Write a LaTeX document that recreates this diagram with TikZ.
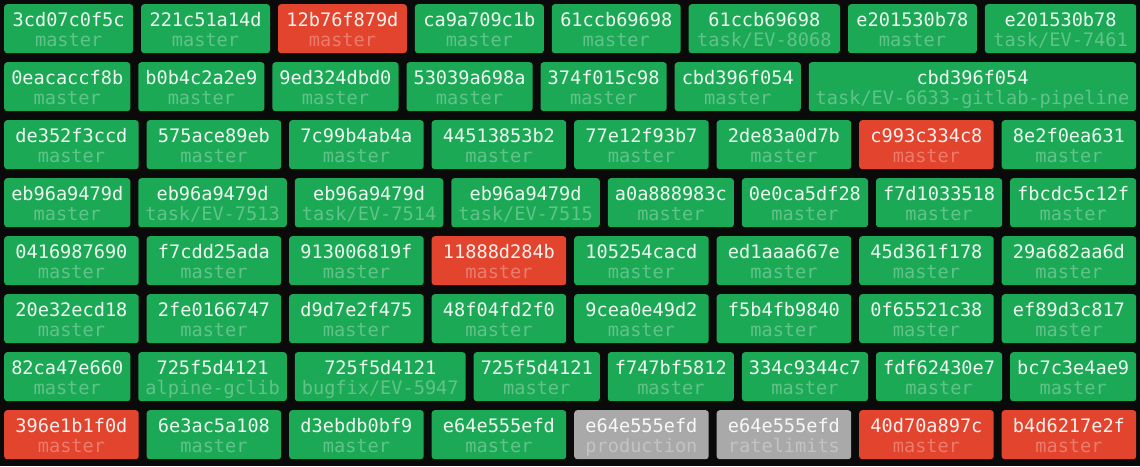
\documentclass[tikz,border=0pt]{standalone}
\usepackage{fontspec}
\setmonofont{DejaVu Sans Mono}
\usepackage{xcolor}
\definecolor{bgblack}{RGB}{10,10,10}
\definecolor{cgreen}{RGB}{28,169,86}
\definecolor{cred}{RGB}{226,68,45}
\definecolor{cgrey}{RGB}{169,169,169}

% one commit tile: name, left x, top y, width, fill, hash, branch
\newcommand{\commit}[7]{%
  \node[commitbox, fill=#5, minimum width=#4pt] (#1) at (#2,#3) {};
  \node[hashlabel=#5] (#1h) at ([yshift=-22pt]#1.north) {#6};
  \node[branchlabel=#5] (#1b) at ([yshift=-42pt]#1.north) {#7};
}

\begin{document}
\begin{tikzpicture}[x=1pt,y=-1pt,
  commitbox/.style={rectangle, rounded corners=3pt, minimum height=49pt,
    inner sep=0pt, anchor=north west},
  hashlabel/.style={anchor=base, inner sep=0pt, text=white!92!#1,
    font=\ttfamily\fontsize{18.6}{20}\selectfont},
  branchlabel/.style={anchor=base, inner sep=0pt, text=white!30!#1,
    font=\ttfamily\fontsize{18.6}{20}\selectfont}]
\fill[bgblack] (0,0) rectangle (1140,466);
\useasboundingbox (0,0) rectangle (1140,466);

% row 1
\commit{r1a}{4}{4}{128.9}{cgreen}{3cd07c0f5c}{master}
\commit{r1b}{140.9}{4}{128.9}{cgreen}{221c51a14d}{master}
\commit{r1c}{277.8}{4}{128.9}{cred}{12b76f879d}{master}
\commit{r1d}{414.7}{4}{128.9}{cgreen}{ca9a709c1b}{master}
\commit{r1e}{551.6}{4}{128.9}{cgreen}{61ccb69698}{master}
\commit{r1f}{688.5}{4}{151.3}{cgreen}{61ccb69698}{task/EV-8068}
\commit{r1g}{847.8}{4}{128.9}{cgreen}{e201530b78}{master}
\commit{r1h}{984.7}{4}{151.3}{cgreen}{e201530b78}{task/EV-7461}

% row 2
\commit{r2a}{4}{62}{126.1}{cgreen}{0eacaccf8b}{master}
\commit{r2b}{138.1}{62}{126.1}{cgreen}{b0b4c2a2e9}{master}
\commit{r2c}{272.2}{62}{126.1}{cgreen}{9ed324dbd0}{master}
\commit{r2d}{406.3}{62}{126.1}{cgreen}{53039a698a}{master}
\commit{r2e}{540.4}{62}{126.1}{cgreen}{374f015c98}{master}
\commit{r2f}{674.5}{62}{126.1}{cgreen}{cbd396f054}{master}
\commit{r2g}{808.6}{62}{327.4}{cgreen}{cbd396f054}{task/EV-6633-gitlab-pipeline}

% row 3
\commit{r3a}{4}{120}{134.5}{cgreen}{de352f3ccd}{master}
\commit{r3b}{146.5}{120}{134.5}{cgreen}{575ace89eb}{master}
\commit{r3c}{289}{120}{134.5}{cgreen}{7c99b4ab4a}{master}
\commit{r3d}{431.5}{120}{134.5}{cgreen}{44513853b2}{master}
\commit{r3e}{574}{120}{134.5}{cgreen}{77e12f93b7}{master}
\commit{r3f}{716.5}{120}{134.5}{cgreen}{2de83a0d7b}{master}
\commit{r3g}{859}{120}{134.5}{cred}{c993c334c8}{master}
\commit{r3h}{1001.5}{120}{134.5}{cgreen}{8e2f0ea631}{master}

% row 4
\commit{r4a}{4}{178}{126.1}{cgreen}{eb96a9479d}{master}
\commit{r4b}{138.1}{178}{148.5}{cgreen}{eb96a9479d}{task/EV-7513}
\commit{r4c}{294.6}{178}{148.5}{cgreen}{eb96a9479d}{task/EV-7514}
\commit{r4d}{451.1}{178}{148.5}{cgreen}{eb96a9479d}{task/EV-7515}
\commit{r4e}{607.6}{178}{126.1}{cgreen}{a0a888983c}{master}
\commit{r4f}{741.7}{178}{126.1}{cgreen}{0e0ca5df28}{master}
\commit{r4g}{875.8}{178}{126.1}{cgreen}{f7d1033518}{master}
\commit{r4h}{1009.9}{178}{126.1}{cgreen}{fbcdc5c12f}{master}

% row 5
\commit{r5a}{4}{236}{134.5}{cgreen}{0416987690}{master}
\commit{r5b}{146.5}{236}{134.5}{cgreen}{f7cdd25ada}{master}
\commit{r5c}{289}{236}{134.5}{cgreen}{913006819f}{master}
\commit{r5d}{431.5}{236}{134.5}{cred}{11888d284b}{master}
\commit{r5e}{574}{236}{134.5}{cgreen}{105254cacd}{master}
\commit{r5f}{716.5}{236}{134.5}{cgreen}{ed1aaa667e}{master}
\commit{r5g}{859}{236}{134.5}{cgreen}{45d361f178}{master}
\commit{r5h}{1001.5}{236}{134.5}{cgreen}{29a682aa6d}{master}

% row 6
\commit{r6a}{4}{294}{134.5}{cgreen}{20e32ecd18}{master}
\commit{r6b}{146.5}{294}{134.5}{cgreen}{2fe0166747}{master}
\commit{r6c}{289}{294}{134.5}{cgreen}{d9d7e2f475}{master}
\commit{r6d}{431.5}{294}{134.5}{cgreen}{48f04fd2f0}{master}
\commit{r6e}{574}{294}{134.5}{cgreen}{9cea0e49d2}{master}
\commit{r6f}{716.5}{294}{134.5}{cgreen}{f5b4fb9840}{master}
\commit{r6g}{859}{294}{134.5}{cgreen}{0f65521c38}{master}
\commit{r6h}{1001.5}{294}{134.5}{cgreen}{ef89d3c817}{master}

% row 7
\commit{r7a}{4}{352}{126.1}{cgreen}{82ca47e660}{master}
\commit{r7b}{138.1}{352}{148.5}{cgreen}{725f5d4121}{alpine-gclib}
\commit{r7c}{294.6}{352}{170.9}{cgreen}{725f5d4121}{bugfix/EV-5947}
\commit{r7d}{473.5}{352}{126.1}{cgreen}{725f5d4121}{master}
\commit{r7e}{607.6}{352}{126.1}{cgreen}{f747bf5812}{master}
\commit{r7f}{741.7}{352}{126.1}{cgreen}{334c9344c7}{master}
\commit{r7g}{875.8}{352}{126.1}{cgreen}{fdf62430e7}{master}
\commit{r7h}{1009.9}{352}{126.1}{cgreen}{bc7c3e4ae9}{master}

% row 8
\commit{r8a}{4}{410}{134.5}{cred}{396e1b1f0d}{master}
\commit{r8b}{146.5}{410}{134.5}{cgreen}{6e3ac5a108}{master}
\commit{r8c}{289}{410}{134.5}{cgreen}{d3ebdb0bf9}{master}
\commit{r8d}{431.5}{410}{134.5}{cgreen}{e64e555efd}{master}
\commit{r8e}{574}{410}{134.5}{cgrey}{e64e555efd}{production}
\commit{r8f}{716.5}{410}{134.5}{cgrey}{e64e555efd}{ratelimits}
\commit{r8g}{859}{410}{134.5}{cred}{40d70a897c}{master}
\commit{r8h}{1001.5}{410}{134.5}{cred}{b4d6217e2f}{master}
\end{tikzpicture}
\end{document}
